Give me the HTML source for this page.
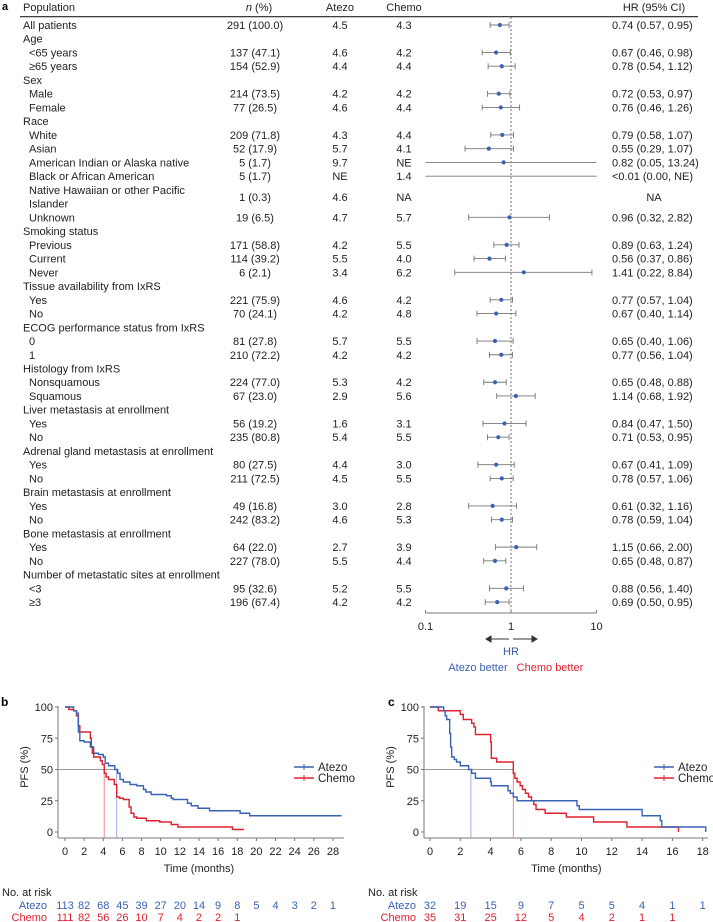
<!DOCTYPE html>
<html><head><meta charset="utf-8">
<style>
html,body{margin:0;padding:0;background:#fff;}
svg{display:block;font-family:"Liberation Sans",Arial,sans-serif;}
</style></head>
<body>
<svg id="fig" width="713" height="922" viewBox="0 0 713 922"></svg>
<script>
// ===== Forest plot data =====
const rowLabels = ["All patients","Age","<65 years","≥65 years","Sex","Male","Female","Race","White","Asian","American Indian or Alaska native","Black or African American","Native Hawaiian or other Pacific","Islander","Unknown","Smoking status","Previous","Current","Never","Tissue availability from IxRS","Yes","No","ECOG performance status from IxRS","0","1","Histology from IxRS","Nonsquamous","Squamous","Liver metastasis at enrollment","Yes","No","Adrenal gland metastasis at enrollment","Yes","No","Brain metastasis at enrollment","Yes","No","Bone metastasis at enrollment","Yes","No","Number of metastatic sites at enrollment","<3","≥3"];
const rowIndent = [0,0,1,1,0,1,1,0,1,1,1,1,1,1,1,0,1,1,1,0,1,1,0,1,1,0,1,1,0,1,1,0,1,1,0,1,1,0,1,1,0,1,1];
const nCol = ["291 (100.0)","","137 (47.1)","154 (52.9)","","214 (73.5)","77 (26.5)","","209 (71.8)","52 (17.9)","5 (1.7)","5 (1.7)","","","19 (6.5)","","171 (58.8)","114 (39.2)","6 (2.1)","","221 (75.9)","70 (24.1)","","81 (27.8)","210 (72.2)","","224 (77.0)","67 (23.0)","","56 (19.2)","235 (80.8)","","80 (27.5)","211 (72.5)","","49 (16.8)","242 (83.2)","","64 (22.0)","227 (78.0)","","95 (32.6)","196 (67.4)"];
const atezoMed = ["4.5","","4.6","4.4","","4.2","4.6","","4.3","5.7","9.7","NE","","","4.7","","4.2","5.5","3.4","","4.6","4.2","","5.7","4.2","","5.3","2.9","","1.6","5.4","","4.4","4.5","","3.0","4.6","","2.7","5.5","","5.2","4.2"];
const chemoMed = ["4.3","","4.2","4.4","","4.2","4.4","","4.4","4.1","NE","1.4","","","5.7","","5.5","4.0","6.2","","4.2","4.8","","5.5","4.2","","4.2","5.6","","3.1","5.5","","3.0","5.5","","2.8","5.3","","3.9","4.4","","5.5","4.2"];
const hrVal = [0.74,null,0.67,0.78,null,0.72,0.76,null,0.79,0.55,0.82,null,null,null,0.96,null,0.89,0.56,1.41,null,0.77,0.67,null,0.65,0.77,null,0.65,1.14,null,0.84,0.71,null,0.67,0.78,null,0.61,0.78,null,1.15,0.65,null,0.88,0.69];
const hrLo = [0.57,null,0.46,0.54,null,0.53,0.46,null,0.58,0.29,0.05,0.001,null,null,0.32,null,0.63,0.37,0.22,null,0.57,0.40,null,0.40,0.56,null,0.48,0.68,null,0.47,0.53,null,0.41,0.57,null,0.32,0.59,null,0.66,0.48,null,0.56,0.50];
const hrHi = [0.95,null,0.98,1.12,null,0.97,1.26,null,1.07,1.07,13.24,1000,null,null,2.82,null,1.24,0.86,8.84,null,1.04,1.14,null,1.06,1.04,null,0.88,1.92,null,1.50,0.95,null,1.09,1.06,null,1.16,1.04,null,2.00,0.87,null,1.40,0.95];
const hrText = ["0.74 (0.57, 0.95)","","0.67 (0.46, 0.98)","0.78 (0.54, 1.12)","","0.72 (0.53, 0.97)","0.76 (0.46, 1.26)","","0.79 (0.58, 1.07)","0.55 (0.29, 1.07)","0.82 (0.05, 13.24)","<0.01 (0.00, NE)","","","0.96 (0.32, 2.82)","","0.89 (0.63, 1.24)","0.56 (0.37, 0.86)","1.41 (0.22, 8.84)","","0.77 (0.57, 1.04)","0.67 (0.40, 1.14)","","0.65 (0.40, 1.06)","0.77 (0.56, 1.04)","","0.65 (0.48, 0.88)","1.14 (0.68, 1.92)","","0.84 (0.47, 1.50)","0.71 (0.53, 0.95)","","0.67 (0.41, 1.09)","0.78 (0.57, 1.06)","","0.61 (0.32, 1.16)","0.78 (0.59, 1.04)","","1.15 (0.66, 2.00)","0.65 (0.48, 0.87)","","0.88 (0.56, 1.40)","0.69 (0.50, 0.95)"];
const hrTicks = [0.1,1,10];
const hrTickLabels = ["0.1","1","10"];

// ===== KM data panel b =====
const bAtezoT = [0,0.9,1.2,1.4,1.55,2.0,2.65,3.0,3.5,4.0,4.2,4.55,5.2,5.5,5.75,6.1,6.8,7.5,8.2,8.45,9.0,10.6,11.1,11.3,12.8,13.2,13.9,15.1,18.3,19.3,28.9];
const bAtezoS = [100,97,95,80,73,72,68,63,62,60,55,53,50,47,42,40,38,37,34,32,30,29,27,26,23,21,19,17,15,13,13];
const bChemoT = [0,0.4,0.9,1.2,1.38,1.55,2.65,2.75,2.85,3.0,3.7,3.9,4.1,4.3,4.55,5.15,5.4,5.7,6.1,6.7,6.9,7.2,7.5,8.5,9.9,11.1,11.8,13.2,17.5,18.7];
const bChemoS = [100,98,97,93,85,80,75,68,63,60,57,54,47,44,42,38,28,27,26,20,15,12,11,9,8,6,4,4,2,2];
const bTicks = [0,2,4,6,8,10,12,14,16,18,20,22,24,26,28];
const bRiskAtezo = ["113","82","68","45","39","27","20","14","9","8","5","4","3","2","1"];
const bRiskChemo = ["111","82","56","26","10","7","4","2","2","1"];
const bMedians = [5.4,4.1];

// ===== KM data panel c =====
const cAtezoT = [0,0.9,1.0,1.1,1.3,1.36,1.43,1.6,1.75,2.0,2.55,2.75,3.0,4.0,4.05,5.15,5.3,5.5,5.75,5.9,9.7,9.85,14.0,15.2,15.3,18.2];
const cAtezoS = [100,97,93,90,79,68,60,58,56,53,50,47,43,40,37,33,31,28,25,25,21,18,13,9,4,0];
const cChemoT = [0,0.55,2.0,2.2,2.75,2.9,3.0,4.0,4.05,4.4,5.5,5.6,5.75,5.95,6.1,6.3,6.5,6.7,6.85,7.0,7.6,9.0,10.8,13.0,16.4];
const cChemoS = [100,97,94,90,87,84,78,72,59,56,47,43,40,37,34,31,28,25,22,18,15,12,8,4,0];
const cTicks = [0,2,4,6,8,10,12,14,16,18];
const cRiskAtezo = ["32","19","15","9","7","5","5","4","1","1"];
const cRiskChemo = ["35","31","25","12","5","4","2","1","1"];
const cMedians = [2.7,5.5];
const yTicks = [0,25,50,75,100];

const NS = "http://www.w3.org/2000/svg";
const svg = document.getElementById("fig");
const BLUE = "#3a62b4", RED = "#e0202e", GRAY = "#777";
function el(tag, attrs, parent, text) {
  const e = document.createElementNS(NS, tag);
  for (const k in attrs) e.setAttribute(k, attrs[k]);
  if (text !== undefined) e.textContent = text;
  (parent || svg).appendChild(e);
  return e;
}

// ---------- Panel a ----------
const ga = el("g", {}); 


let t = el("text", {x:2, y:10, "font-size":11, "font-weight":"bold"}, ga, "a");
 
const rowY = i => 25 + i * 13.74;
const hx = v => 511 + 85.5 * Math.log10(v);
const hdr = el("g", {"font-size":11, fill:"#222"}, ga);
 
el("text", {x:23, y:11}, hdr, "Population");
const nh = el("text", {x:259, y:11, "text-anchor":"middle"}, hdr);
el("tspan", {"font-style":"italic"}, nh, "n");
el("tspan", {}, nh, " (%)");
el("text", {x:340, y:11, "text-anchor":"middle"}, hdr, "Atezo");
el("text", {x:404, y:11, "text-anchor":"middle"}, hdr, "Chemo");
el("text", {x:654, y:11, "text-anchor":"middle"}, hdr, "HR (95% CI)");
let hl = el("line", {x1:20, x2:698, y1:16.7, y2:16.7, stroke:"#222", "stroke-width":1.2}, ga);
 

// reference dashed line
let dl = el("line", {x1:hx(1), x2:hx(1), y1:17, y2:613, stroke:"#555", "stroke-width":0.8, "stroke-dasharray":"2,2"}, ga);
 

const tbl = el("g", {"font-size":11, fill:"#222"}, ga);
 
for (let i = 0; i < rowLabels.length; i++) {
  const y = rowY(i) + 4;
  const lt = el("text", {x: rowIndent[i] ? 29 : 23, y: y}, tbl, rowLabels[i]);
  
  
  if (nCol[i]) {
    const nt = el("text", {x:255, y:y, "text-anchor":"middle"}, tbl, nCol[i]);
    
    
  }
  if (atezoMed[i]) {
    const a = el("text", {x:340, y:y, "text-anchor":"middle"}, tbl, atezoMed[i]);
    
    
  }
  if (chemoMed[i]) {
    const c = el("text", {x:404, y:y, "text-anchor":"middle"}, tbl, chemoMed[i]);
    
    
  }
  if (hrText[i]) {
    const h = el("text", {x:612, y:y}, tbl, hrText[i]);
    
    
  }
  if (hrLo[i] !== null) {
    const x1 = Math.max(hx(0.1), hx(hrLo[i])), x2 = Math.min(hx(10), hx(hrHi[i]));
    const yy = rowY(i);
    const ci = el("path", {d:`M${x1},${yy}H${x2}` + (hrLo[i] >= 0.1 ? `M${x1},${yy-3}V${yy+3}` : "") + (hrHi[i] <= 10 ? `M${x2},${yy-3}V${yy+3}` : ""), stroke:GRAY, "stroke-width":0.9, fill:"none"}, ga);
    
    
    if (hrVal[i] !== null) {
      const p = el("circle", {cx:hx(hrVal[i]), cy:yy, r:2.1, fill:BLUE}, ga);
      
      
    }
  }
}
// Native Hawaiian special values
const nhY = (rowY(12) + rowY(13)) / 2 + 4;
let t1 = el("text", {x:255, y:nhY, "text-anchor":"middle", "font-size":11, fill:"#222"}, tbl, "1 (0.3)");
 
let t2 = el("text", {x:340, y:nhY, "text-anchor":"middle", "font-size":11, fill:"#222"}, tbl, "4.6");
 
let t3 = el("text", {x:404, y:nhY, "text-anchor":"middle", "font-size":11, fill:"#222"}, tbl, "NA");
 
let t4 = el("text", {x:654, y:nhY, "text-anchor":"middle", "font-size":11, fill:"#222"}, tbl, "NA");
 

// HR axis
const hax = el("g", {}, ga);
 
el("line", {x1:hx(0.1), x2:hx(10), y1:613, y2:613, stroke:GRAY, "stroke-width":1}, hax);
hrTicks.forEach((v, k) => {
  el("line", {x1:hx(v), x2:hx(v), y1:610, y2:613, stroke:GRAY, "stroke-width":1}, hax);
  const tl = el("text", {x:hx(v), y:630, "text-anchor":"middle", "font-size":11, fill:"#222"}, hax, hrTickLabels[k]);
  
  
});
const arr = el("g", {stroke:"#333", "stroke-width":1, fill:"#333"}, ga);
 
el("line", {x1:489, x2:509, y1:639, y2:639}, arr);
el("path", {d:"M486,639 l5,-3 v6 z"}, arr);
el("line", {x1:513, x2:534, y1:639, y2:639}, arr);
el("path", {d:"M537,639 l-5,-3 v6 z"}, arr);
let hrl = el("text", {x:511, y:655, "text-anchor":"middle", "font-size":11, fill:"#3a56a0"}, ga, "HR");
 
let ab = el("text", {x:478, y:671, "text-anchor":"middle", "font-size":11, fill:BLUE}, ga, "Atezo better");
 
let cb = el("text", {x:550, y:671, "text-anchor":"middle", "font-size":11, fill:RED}, ga, "Chemo better");
 

// ---------- KM panels ----------
function kmPanel(o) {
  const g = el("g", {});
  
  
  const X = t => o.x0 + t * o.pxm, Y = s => 832 - s * 1.25;
  let lb = el("text", {x:o.lx, y:706, "font-size":12, "font-weight":"bold"}, g, o.letter);
   
  // y axis
  const ya = el("g", {}, g);
   
  el("line", {x1:o.ax, x2:o.ax, y1:706, y2:838, stroke:GRAY, "stroke-width":1}, ya);
  yTicks.forEach(v => {
    el("line", {x1:o.ax-3, x2:o.ax, y1:Y(v), y2:Y(v), stroke:GRAY, "stroke-width":1}, ya);
    const tl = el("text", {x:o.ax-5, y:Y(v)+4, "text-anchor":"end", "font-size":11, fill:"#222"}, ya, String(v));
     
  });
  const yt = el("text", {x:0, y:0, "font-size":11, fill:"#222", "text-anchor":"middle", transform:`translate(${o.ax-30},767) rotate(-90)`}, g, "PFS (%)");
   
  // x axis
  const xa = el("g", {}, g);
   
  el("line", {x1:o.ax, x2:o.xend, y1:838, y2:838, stroke:GRAY, "stroke-width":1}, xa);
  o.ticks.forEach(v => {
    el("line", {x1:X(v), x2:X(v), y1:838, y2:841, stroke:GRAY, "stroke-width":1}, xa);
    const tl = el("text", {x:X(v), y:855, "text-anchor":"middle", "font-size":11, fill:"#222"}, xa, String(v));
     
  });
  const xt = el("text", {x:(X(o.ticks[0])+X(o.ticks[o.ticks.length-1]))/2, y:872, "text-anchor":"middle", "font-size":11, fill:"#222"}, g, "Time (months)");
   
  // median lines
  const mMax = Math.max(o.med[0], o.med[1]);
  const ml = el("line", {x1:o.ax, x2:X(mMax), y1:Y(50), y2:Y(50), stroke:"#999", "stroke-width":0.9}, g);
   
  const mv1 = el("line", {x1:X(o.med[0]), x2:X(o.med[0]), y1:Y(50), y2:838, stroke:"#9fb0dc", "stroke-width":1}, g);
   
  const mv2 = el("line", {x1:X(o.med[1]), x2:X(o.med[1]), y1:Y(50), y2:838, stroke:"#f08a8a", "stroke-width":1}, g);
   
  // curves
  function curve(T, S, col, name) {
    let d = `M${X(T[0])},${Y(S[0])}`;
    for (let i = 1; i < T.length; i++) d += `H${X(T[i])}V${Y(S[i])}`;
    const p = el("path", {d:d, stroke:col, "stroke-width":1.4, fill:"none"}, g);
    
    
  }
  curve(o.cT, o.cS, RED, 'chemo-km-curve');
  curve(o.aT, o.aS, BLUE, 'atezo-km-curve');
  // legend
  const lg = el("g", {}, g);
   
  el("line", {x1:o.legx, x2:o.legx+20, y1:767, y2:767, stroke:BLUE, "stroke-width":1.4}, lg);
  el("line", {x1:o.legx+10, x2:o.legx+10, y1:764, y2:770, stroke:BLUE, "stroke-width":1}, lg);
  el("text", {x:o.legx+24, y:771, "font-size":11.5, fill:"#222"}, lg, "Atezo");
  el("line", {x1:o.legx, x2:o.legx+20, y1:778, y2:778, stroke:RED, "stroke-width":1.4}, lg);
  el("line", {x1:o.legx+10, x2:o.legx+10, y1:775, y2:781, stroke:RED, "stroke-width":1}, lg);
  el("text", {x:o.legx+24, y:782, "font-size":11.5, fill:"#222"}, lg, "Chemo");
  // risk table
  const rt = el("g", {"font-size":11}, g);
   
  el("text", {x:o.rx, y:896, fill:"#222"}, rt, "No. at risk");
  el("text", {x:o.rlx, y:909, "text-anchor":"end", fill:BLUE}, rt, "Atezo");
  el("text", {x:o.rlx, y:921, "text-anchor":"end", fill:RED}, rt, "Chemo");
  o.ra.forEach((v, k) => {
    const e = el("text", {x:X(o.ticks[k]), y:909, "text-anchor":"middle", fill:BLUE}, rt, v);
     
  });
  o.rc.forEach((v, k) => {
    const e = el("text", {x:X(o.ticks[k]), y:921, "text-anchor":"middle", fill:RED}, rt, v);
     
  });
}
kmPanel({name:'km-panel-b', letter:'b', lx:1, ax:58, x0:65, pxm:9.57, xend:344, ticks:bTicks,
  aT:bAtezoT, aS:bAtezoS, cT:bChemoT, cS:bChemoS, med:bMedians, legx:294, rx:2, rlx:47, ra:bRiskAtezo, rc:bRiskChemo});
kmPanel({name:'km-panel-c', letter:'c', lx:388, ax:424, x0:430, pxm:15.15, xend:708, ticks:cTicks,
  aT:cAtezoT, aS:cAtezoS, cT:cChemoT, cS:cChemoS, med:cMedians, legx:654, rx:368, rlx:416, ra:cRiskAtezo, rc:cRiskChemo});
</script>
</body></html>
